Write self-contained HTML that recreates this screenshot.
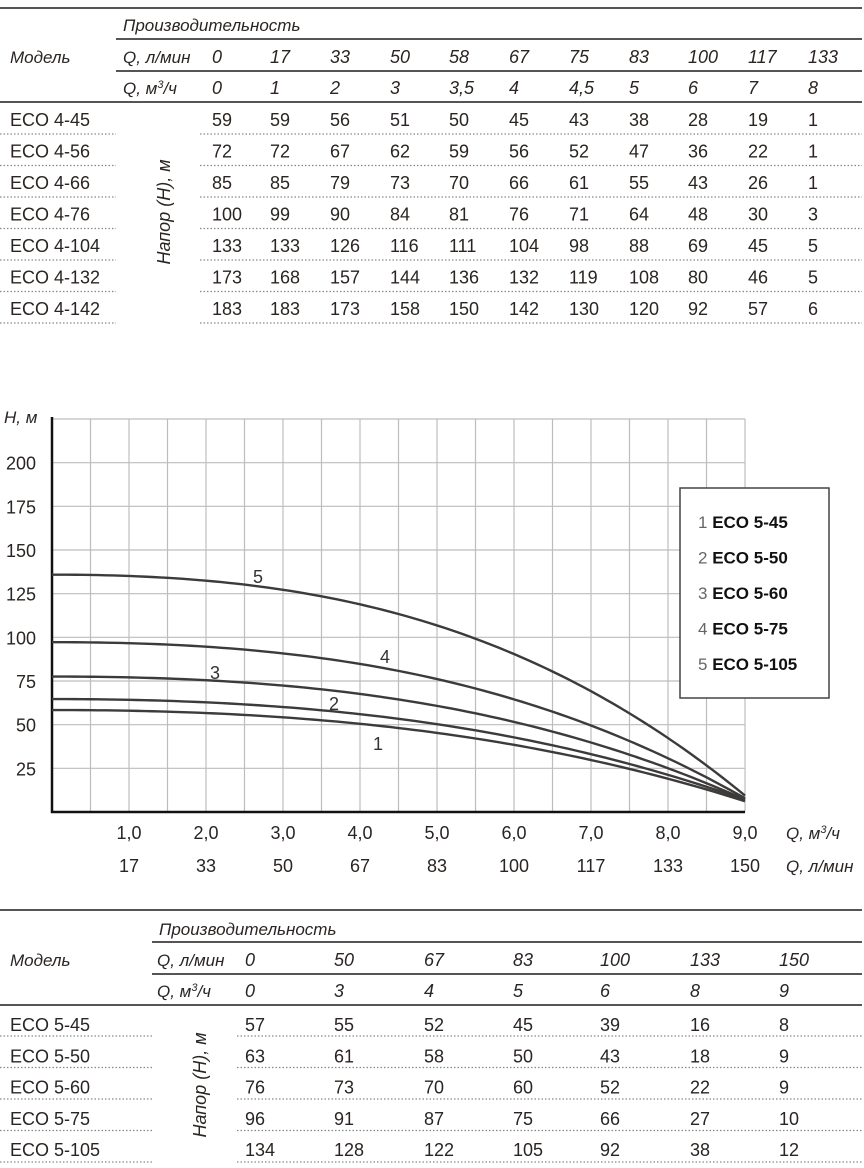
<!DOCTYPE html>
<html><head><meta charset="utf-8">
<style>
html,body{margin:0;padding:0;background:#fff;}
svg{display:block;font-family:"Liberation Sans",sans-serif;}
</style></head>
<body>
<svg id="pg" width="864" height="1168" viewBox="0 0 864 1168" xmlns="http://www.w3.org/2000/svg">
<g id="t1"></g>
<g id="chart"></g>
<g id="t2"></g>
</svg>
<script>
// ---- top table data ----
const t1Lmin = ["0","17","33","50","58","67","75","83","100","117","133"];
const t1M3 = ["0","1","2","3","3,5","4","4,5","5","6","7","8"];
const t1Models = ["ECO 4-45","ECO 4-56","ECO 4-66","ECO 4-76","ECO 4-104","ECO 4-132","ECO 4-142"];
const t1Rows = [
 [59,59,56,51,50,45,43,38,28,19,1],
 [72,72,67,62,59,56,52,47,36,22,1],
 [85,85,79,73,70,66,61,55,43,26,1],
 [100,99,90,84,81,76,71,64,48,30,3],
 [133,133,126,116,111,104,98,88,69,45,5],
 [173,168,157,144,136,132,119,108,80,46,5],
 [183,183,173,158,150,142,130,120,92,57,6]];
// ---- bottom table / chart data ----
const qM3 = [0,3,4,5,6,8,9];
const qLmin = ["0","50","67","83","100","133","150"];
const t2Models = ["ECO 5-45","ECO 5-50","ECO 5-60","ECO 5-75","ECO 5-105"];
const head545 = [57,55,52,45,39,16,8];
const head550 = [63,61,58,50,43,18,9];
const head560 = [76,73,70,60,52,22,9];
const head575 = [96,91,87,75,66,27,10];
const head5105 = [134,128,122,105,92,38,12];
const chartSeries = [head545,head550,head560,head575,head5105];
const xTicksM3 = ["1,0","2,0","3,0","4,0","5,0","6,0","7,0","8,0","9,0"];
const xTicksLmin = ["17","33","50","67","83","100","117","133","150"];
const yTicks = [25,50,75,100,125,150,175,200];

const NS="http://www.w3.org/2000/svg";
function mk(tag, attrs, parent, text){
  const e=document.createElementNS(NS,tag);
  for(const k in attrs) e.setAttribute(k,attrs[k]);
  if(text!==undefined) e.textContent=text;
  parent.appendChild(e); return e;
}
const C="#2a2522";
const FS=18;

// ===== Top table =====
(function(){
  const g=document.getElementById('t1');
  const colX=[212,270,330,390,449,509,569,629,688,748,808];
  mk('line',{x1:0,y1:8,x2:862,y2:8,stroke:"#555","stroke-width":2},g);
  mk('line',{x1:116,y1:39,x2:862,y2:39,stroke:"#555","stroke-width":2},g);
  mk('line',{x1:116,y1:71,x2:862,y2:71,stroke:"#555","stroke-width":2},g);
  mk('line',{x1:0,y1:102,x2:862,y2:102,stroke:"#555","stroke-width":2},g);
  let e=mk('text',{x:123,y:31,"font-size":17,"font-style":"italic",fill:C},g,"Производительность");
  
  
  e=mk('text',{x:10,y:63,"font-size":17,"font-style":"italic",fill:C},g,"Модель");
  
  
  mk('text',{x:123,y:63,"font-size":17,"font-style":"italic",fill:C},g,"Q, л/мин");
  const q=mk('text',{x:123,y:94,"font-size":17,"font-style":"italic",fill:C},g,"Q, м");
  mk('tspan',{dy:-6,"font-size":11},q,"3");
  mk('tspan',{dy:6},q,"/ч");
  t1Lmin.forEach((v,i)=>mk('text',{x:colX[i],y:63,"font-size":FS,"font-style":"italic",fill:C},g,v));
  t1M3.forEach((v,i)=>mk('text',{x:colX[i],y:94,"font-size":FS,"font-style":"italic",fill:C},g,v));
  t1Models.forEach((m,r)=>{
    const y=126+r*31.5;
    const t=mk('text',{x:10,y:y,"font-size":FS,fill:C},g,m);
    
    
    t1Rows[r].forEach((v,i)=>mk('text',{x:colX[i],y:y,"font-size":FS,fill:C},g,String(v)));
    const ly=134+r*31.5;
    mk('line',{x1:0,y1:ly,x2:116,y2:ly,stroke:"#888","stroke-width":1.2,"stroke-dasharray":"1.5 2"},g);
    mk('line',{x1:200,y1:ly,x2:862,y2:ly,stroke:"#888","stroke-width":1.2,"stroke-dasharray":"1.5 2"},g);
  });
  const v=mk('text',{x:0,y:0,"font-size":18,"font-style":"italic",fill:C,"text-anchor":"middle",transform:"translate(170,212) rotate(-90)"},g,"Напор (Н), м");
  
  
})();

// ===== Chart =====
(function(){
  const g=document.getElementById('chart');
  const X0=52, X1=745, Y0=812, YTOP=419;
  const xs=q=>X0+q*(X1-X0)/9;
  const ys=h=>Y0-h*(Y0-YTOP)/225;
  for(let i=1;i<=18;i++){
    const x=X0+i*(X1-X0)/18;
    mk('line',{x1:x,y1:YTOP,x2:x,y2:Y0,stroke:"#bdbdbd","stroke-width":1.2},g);
  }
  for(let h=25;h<=225;h+=25){
    mk('line',{x1:X0,y1:ys(h),x2:X1,y2:ys(h),stroke:"#bdbdbd","stroke-width":1.2},g);
  }
  mk('line',{x1:X0,y1:YTOP-2,x2:X0,y2:Y0+1,stroke:"#111","stroke-width":2.5},g);
  mk('line',{x1:X0-1,y1:Y0,x2:X1,y2:Y0,stroke:"#111","stroke-width":2.5},g);
  let t=mk('text',{x:4,y:423,"font-size":17,"font-style":"italic",fill:C},g,"H, м");
  
  
  yTicks.forEach(v=>mk('text',{x:36,y:ys(v)+7,"font-size":18,fill:C,"text-anchor":"end"},g,String(v)));
  xTicksM3.forEach((v,i)=>mk('text',{x:xs(i+1),y:839,"font-size":18,fill:C,"text-anchor":"middle"},g,v));
  xTicksLmin.forEach((v,i)=>mk('text',{x:xs(i+1),y:872,"font-size":18,fill:C,"text-anchor":"middle"},g,v));
  const q1=mk('text',{x:786,y:839,"font-size":17,"font-style":"italic",fill:C},g,"Q, м");
  mk('tspan',{dy:-6,"font-size":11},q1,"3");
  mk('tspan',{dy:6},q1,"/ч");
  
  
  t=mk('text',{x:786,y:872,"font-size":17,"font-style":"italic",fill:C},g,"Q, л/мин");
  
  
  // least-squares fit with basis powers (flat start: no linear term)
  function fit(xv,yv,pw){
    const n=pw.length, A=[], b=[];
    for(let i=0;i<n;i++){A.push(new Array(n).fill(0));b.push(0);}
    for(let k=0;k<xv.length;k++){
      for(let i=0;i<n;i++){
        b[i]+=yv[k]*Math.pow(xv[k],pw[i]);
        for(let j=0;j<n;j++) A[i][j]+=Math.pow(xv[k],pw[i]+pw[j]);
      }
    }
    for(let i=0;i<n;i++){
      let p=i; for(let r=i+1;r<n;r++) if(Math.abs(A[r][i])>Math.abs(A[p][i])) p=r;
      [A[i],A[p]]=[A[p],A[i]]; [b[i],b[p]]=[b[p],b[i]];
      for(let r=i+1;r<n;r++){const f=A[r][i]/A[i][i]; for(let c=i;c<n;c++) A[r][c]-=f*A[i][c]; b[r]-=f*b[i];}
    }
    const c=new Array(n).fill(0);
    for(let i=n-1;i>=0;i--){let s=b[i]; for(let j=i+1;j<n;j++) s-=A[i][j]*c[j]; c[i]=s/A[i][i];}
    return x=>c.reduce((s,ci,i)=>s+ci*Math.pow(x,pw[i]),0);
  }
  chartSeries.forEach((s,k)=>{
    const f=fit(qM3,s,[0,2,3]);
    const xmax=qM3[qM3.length-1];
    let d="";
    for(let i=0;i<=90;i++){const x=xmax*i/90; d+=(i?"L":"M")+xs(x).toFixed(2)+","+ys(f(x)).toFixed(2);}
    const p=mk('path',{d:d,fill:"none",stroke:"#3d3a3a","stroke-width":2.4},g);
    
    
  });
  const lbl=[[378,750,"1"],[334,710,"2"],[215,679,"3"],[385,663,"4"],[258,583,"5"]];
  lbl.forEach(l=>{const e=mk('text',{x:l[0],y:l[1],"font-size":18,fill:"#333","text-anchor":"middle"},g,l[2]);
    
    });
  const lg=mk('g',{},g);
  
  
  mk('rect',{x:680,y:488,width:149,height:210,fill:"#fff",stroke:"#444","stroke-width":1.5},lg);
  t2Models.forEach((m,i)=>{
    const e=mk('text',{x:698,y:528+i*35.5,"font-size":17,fill:"#111"},lg);
    mk('tspan',{fill:"#666"},e,(i+1)+" ");
    mk('tspan',{"font-weight":"bold"},e,m);
    
    
  });
})();

// ===== Bottom table =====
(function(){
  const g=document.getElementById('t2');
  const colX=[245,334,424,513,600,690,779];
  mk('line',{x1:0,y1:910,x2:862,y2:910,stroke:"#555","stroke-width":2},g);
  mk('line',{x1:152,y1:942,x2:862,y2:942,stroke:"#555","stroke-width":2},g);
  mk('line',{x1:152,y1:974,x2:862,y2:974,stroke:"#555","stroke-width":2},g);
  mk('line',{x1:0,y1:1005,x2:862,y2:1005,stroke:"#555","stroke-width":2},g);
  let e=mk('text',{x:159,y:935,"font-size":17,"font-style":"italic",fill:C},g,"Производительность");
  
  
  e=mk('text',{x:10,y:966,"font-size":17,"font-style":"italic",fill:C},g,"Модель");
  
  
  mk('text',{x:157,y:966,"font-size":17,"font-style":"italic",fill:C},g,"Q, л/мин");
  const q=mk('text',{x:157,y:997,"font-size":17,"font-style":"italic",fill:C},g,"Q, м");
  mk('tspan',{dy:-6,"font-size":11},q,"3");
  mk('tspan',{dy:6},q,"/ч");
  qLmin.forEach((v,i)=>mk('text',{x:colX[i],y:966,"font-size":FS,"font-style":"italic",fill:C},g,v));
  qM3.forEach((v,i)=>mk('text',{x:colX[i],y:997,"font-size":FS,"font-style":"italic",fill:C},g,String(v)));
  chartSeries.forEach((row,r)=>{
    const y=1031+r*31.3;
    const t=mk('text',{x:10,y:y,"font-size":FS,fill:C},g,t2Models[r]);
    
    
    row.forEach((v,i)=>mk('text',{x:colX[i],y:y,"font-size":FS,fill:C},g,String(v)));
    const ly=1036+r*31.5;
    mk('line',{x1:0,y1:ly,x2:152,y2:ly,stroke:"#888","stroke-width":1.2,"stroke-dasharray":"1.5 2"},g);
    mk('line',{x1:237,y1:ly,x2:862,y2:ly,stroke:"#888","stroke-width":1.2,"stroke-dasharray":"1.5 2"},g);
  });
  const v=mk('text',{x:0,y:0,"font-size":18,"font-style":"italic",fill:C,"text-anchor":"middle",transform:"translate(206,1085) rotate(-90)"},g,"Напор (Н), м");
  
  
})();
</script>
</body></html>
